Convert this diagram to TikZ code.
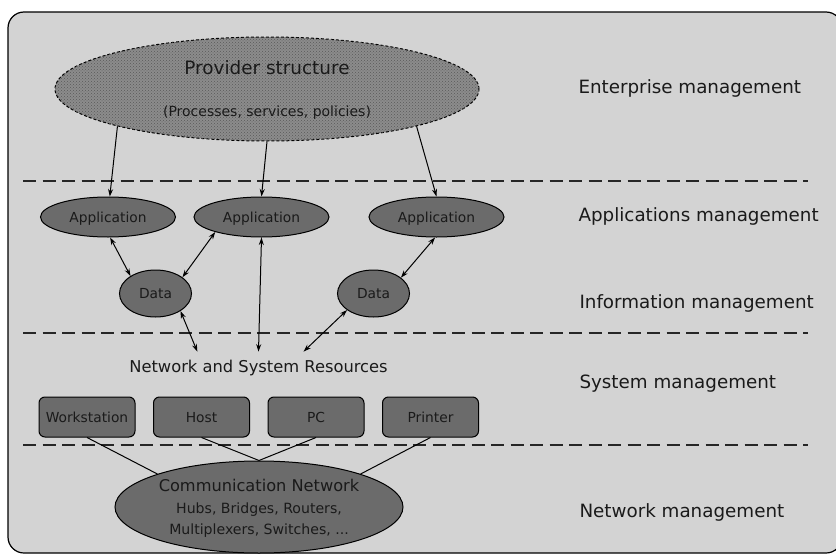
\documentclass[tikz,border=0pt]{standalone}
\usepackage{fontspec}
\setmainfont{DejaVu Sans}
\usetikzlibrary{shapes.geometric,patterns,arrows.meta}
\definecolor{panel}{HTML}{D3D3D3}
\definecolor{dark}{HTML}{6B6B6B}
\definecolor{ink}{HTML}{1A1A1A}

\begin{document}
\begin{tikzpicture}[x=1pt,y=-1pt,>={Stealth[length=7.5pt,width=5pt]},line width=1pt,node distance=114.5pt,text=ink,
    app node/.style={ellipse,draw,fill=dark,inner sep=0pt,text depth=0pt,minimum width=135pt,minimum height=40pt,font=\fontsize{13.8}{16}\selectfont},
    data node/.style={app node,minimum width=72pt,minimum height=47pt},
    res node/.style={rectangle,rounded corners=6pt,draw,fill=dark,inner sep=0pt,text depth=0pt,minimum width=96pt,minimum height=40pt,font=\fontsize{13.8}{16}\selectfont},
    level node/.style={anchor=base west,inner sep=0pt,font=\fontsize{18.3}{22}\selectfont},
    sep line/.style={dash pattern=on 13pt off 6.5pt,line width=1.1pt,draw=black!85}]
    \useasboundingbox (0,0) rectangle (836,554);
    \clip (0,0) rectangle (836,554);
    \draw[fill=panel,rounded corners=16pt,line width=1.2pt] (8,12) rectangle (842,553);
    \foreach \y in {181,333,445}
        \draw[sep line] (23,\y) -- (808,\y);

    \node[ellipse,draw,dash pattern=on 3pt off 2pt,fill=black!45,postaction={pattern=crosshatch dots,pattern color=black!65},
        inner sep=0pt,text depth=0pt,minimum width=424pt,minimum height=104pt,align=center,font=\fontsize{14}{42}\selectfont] (1) at (267,89)
        {{\fontsize{18.4}{42}\selectfont Provider structure}\\(Processes, services, policies)};

    \node[app node] (2) at (108,217) {Application};
    \node[app node] (3) at (261.5,217) {Application};
    \node[app node] (4) at (436.5,217) {Application};

    \node[data node] (5) at (155.5,293.5) {Data};
    \node[data node] (6) at (373.5,293.5) {Data};

    \node[inner xsep=3pt,inner ysep=8pt,font=\fontsize{16.3}{20}\selectfont] (7) at (258.5,368) {Network and System Resources};

    \node[res node] (8) at (87,417) {Workstation};
    \node[res node] (9) [right of = 8] {Host};
    \node[res node] (10) [right of = 9] {PC};
    \node[res node] (11) [right of = 10] {Printer};

    \node[ellipse,draw,fill=dark,inner sep=0pt,text depth=0pt,minimum width=288pt,minimum height=92pt,align=center,font=\fontsize{14.1}{21.5}\selectfont] (12) at (259,507)
        {{\fontsize{16.2}{21.5}\selectfont Communication Network}\\Hubs, Bridges, Routers,\\Multiplexers, Switches, ...};

    \node[level node] (13) at (578,93) {Enterprise management};
    \node[level node] (14) at (578,221.7) {Applications management};
    \node[level node] (15) at (579,308) {Information management};
    \node[level node] (16) at (579,388) {System management};
    \node[level node] (17) at (579,517) {Network management};

    \path[<->]
        (1.194) edge[->] (2.85)
        (1.south) edge[->] (3.north)
        (1.346) edge[->] (4.north)
        (2.276) edge (5.145)
        (3.198) edge (5.31)
        (3.south) edge (7.north)
        (5.325) edge (7.165)
        (4.266) edge (6.30)
        (6.212) edge (7.20)
        (8.south) edge[-] (12.162)
        (9.south) edge[-] (12.north)
        (10.south) edge[-] (12.north)
        (11.south) edge[-] (12.18)
        ;
\end{tikzpicture}
\end{document}
